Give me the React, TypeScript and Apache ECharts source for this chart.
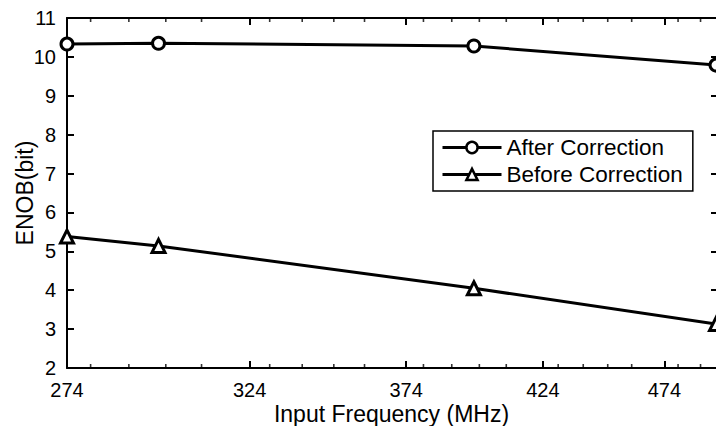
import React, { useEffect, useRef } from "react";
import * as echarts from "echarts";

const frequencies = [274, 298, 398, 497];
const afterCorrection = [10.33, 10.35, 10.28, 9.79];
const beforeCorrection = [5.38, 5.14, 4.05, 3.13];
const majorTicks = [274, 324, 374, 424, 474];
const minorTicks = [280, 290, 300, 310, 330, 340, 350, 360, 380, 390, 400, 410, 430, 440, 450, 460, 480, 490];
const xMin = 274;
const xMax = 497;
const yMin = 2;
const yMax = 11;

const FONT = "'Liberation Sans', Arial, Helvetica, sans-serif";

export default function App() {
  const ref = useRef<HTMLDivElement>(null);
  useEffect(() => {
    if (!ref.current) return;
    const chart = echarts.init(ref.current, undefined, { renderer: "svg" });
    const ln = (v: number) => Math.log(v);
    const baseX = {
      type: "value" as const,
      min: ln(xMin),
      max: ln(xMax),
      splitLine: { show: false },
    };
    const tickLabelFmt = (v: number) => String(Math.round(Math.exp(v)));
    const tickSeries = (yv: number, len: number, dir: number, values: number[]) => ({
      type: "scatter",
      xAxisIndex: 0,
      yAxisIndex: 0,
      silent: true,
      clip: false,
      symbol: "rect",
      symbolSize: [1.6, len],
      symbolOffset: [0, (dir * len) / 2],
      itemStyle: { color: "#000" },
      data: values.map((f) => [ln(f), yv]),
      z: 1,
    });
    chart.setOption({
      animation: false,
      backgroundColor: "#ffffff",
      textStyle: { fontFamily: FONT, color: "#000" },
      grid: { left: 67, right: 0, top: 18, bottom: 58, containLabel: false, outerBoundsMode: "none" },
      legend: {
        orient: "vertical",
        left: 433,
        top: 131,
        padding: [5, 10, 5, 8],
        itemGap: 4,
        itemWidth: 59,
        itemHeight: 14,
        borderColor: "#000",
        borderWidth: 1.5,
        borderRadius: 0,
        backgroundColor: "#fff",
        lineStyle: { width: 3, color: "#000" },
        itemStyle: { color: "#fff", borderColor: "#000", borderWidth: 2.5 },
        textStyle: { fontFamily: FONT, fontSize: 22.5, color: "#000" },
        data: ["After Correction", "Before Correction"],
      },
      xAxis: [
        {
          ...baseX,
          position: "bottom",
          name: "Input Frequency (MHz)",
          nameLocation: "middle",
          nameGap: 34,
          nameMoveOverlap: false,
          nameTextStyle: { fontFamily: FONT, fontSize: 23, color: "#000" },
          axisLine: { show: true, onZero: false, lineStyle: { color: "#000", width: 2 } },
          axisTick: {
            show: true,
            inside: true,
            length: 7,
            customValues: majorTicks.map(ln),
            lineStyle: { color: "#000", width: 2 },
          },
          axisLabel: {
            show: true,
            customValues: majorTicks.map(ln),
            formatter: tickLabelFmt,
            margin: 12,
            fontFamily: FONT,
            fontSize: 20,
            color: "#000",
          },
        },
        {
          ...baseX,
          position: "top",
          axisLine: { show: true, onZero: false, lineStyle: { color: "#000", width: 2 } },
          axisTick: {
            show: true,
            inside: true,
            length: 7,
            customValues: majorTicks.map(ln),
            lineStyle: { color: "#000", width: 2 },
          },
          axisLabel: { show: false },
        },
      ],
      yAxis: [
        {
          type: "value",
          min: yMin,
          max: yMax,
          interval: 1,
          position: "left",
          name: "ENOB(bit)",
          nameLocation: "middle",
          nameGap: 31,
          nameMoveOverlap: false,
          nameTextStyle: { fontFamily: FONT, fontSize: 23, color: "#000" },
          splitLine: { show: false },
          axisLine: { show: true, onZero: false, lineStyle: { color: "#000", width: 2 } },
          axisTick: { show: true, inside: true, length: 7, lineStyle: { color: "#000", width: 2 } },
          axisLabel: { margin: 11, fontFamily: FONT, fontSize: 20, color: "#000" },
        },
        {
          type: "value",
          min: yMin,
          max: yMax,
          interval: 1,
          position: "right",
          splitLine: { show: false },
          axisLine: { show: false },
          axisTick: { show: true, inside: true, length: 5, lineStyle: { color: "#000", width: 2 } },
          axisLabel: { show: false },
        },
      ],
      series: [
        tickSeries(yMin, 4, -1, minorTicks),
        tickSeries(yMax, 4, 1, minorTicks),
        {
          name: "After Correction",
          type: "line",
          xAxisIndex: 0,
          yAxisIndex: 0,
          data: frequencies.map((f, i) => [ln(f), afterCorrection[i]]),
          symbol: "circle",
          symbolSize: 12,
          showAllSymbol: true,
          clip: false,
          lineStyle: { color: "#000", width: 3 },
          itemStyle: { color: "#fff", borderColor: "#000", borderWidth: 3 },
          z: 3,
        },
        {
          name: "Before Correction",
          type: "line",
          xAxisIndex: 0,
          yAxisIndex: 0,
          data: frequencies.map((f, i) => [ln(f), beforeCorrection[i]]),
          symbol: "triangle",
          symbolSize: 13,
          showAllSymbol: true,
          clip: false,
          lineStyle: { color: "#000", width: 3 },
          itemStyle: { color: "#fff", borderColor: "#000", borderWidth: 3 },
          z: 3,
        },
      ],
    });
    return () => chart.dispose();
  }, []);
  return (
    <div
      ref={ref}
      style={{ position: "absolute", left: 0, top: 0, width: 716, height: 426 }}
    />
  );
}
